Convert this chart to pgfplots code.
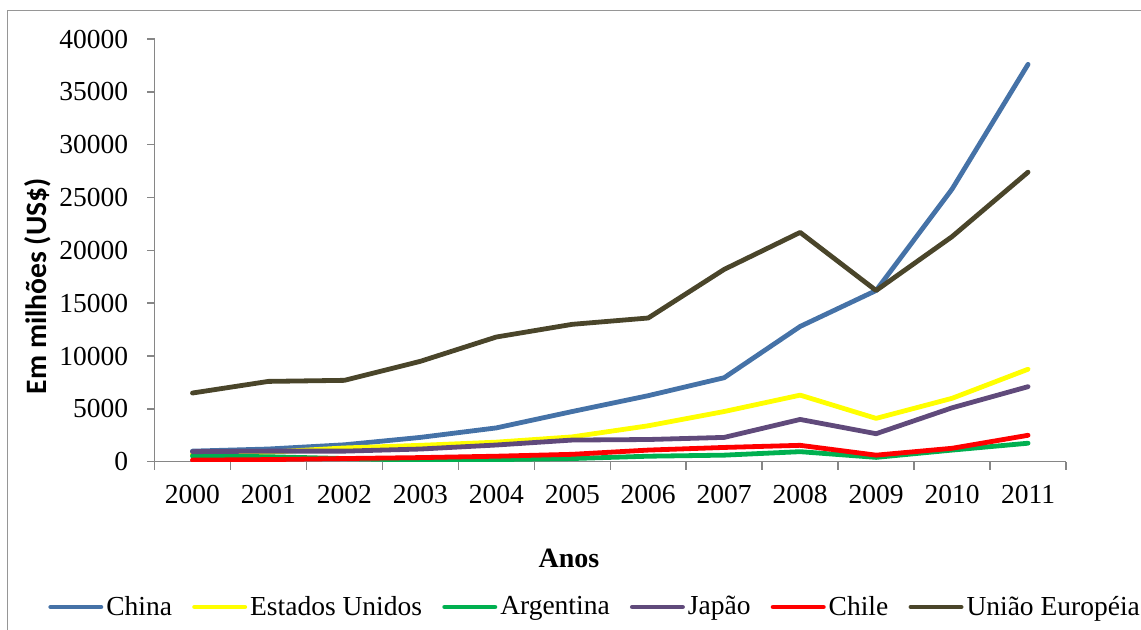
\documentclass[border=0pt]{standalone}
\usepackage{fontspec}
\setmainfont{Liberation Serif}
\newfontfamily\carlito{Carlito}
\usepackage{pgfplots}
\pgfplotsset{compat=1.18}
\definecolor{cchina}{RGB}{69,114,167}
\definecolor{cusa}{RGB}{255,255,0}
\definecolor{carg}{RGB}{0,176,80}
\definecolor{cjap}{RGB}{96,74,123}
\definecolor{cchile}{RGB}{255,0,0}
\definecolor{ceu}{RGB}{74,69,42}
\definecolor{axgray}{RGB}{134,134,134}
\definecolor{framegray}{RGB}{150,150,150}

\pgfplotstableread{
x china usa arg jap chile eu
0 1000 700 540 950 150 6500
1 1200 900 470 1000 200 7600
2 1600 1300 300 1000 300 7700
3 2300 1550 150 1200 390 9500
4 3200 1850 200 1580 520 11800
5 4750 2350 300 2050 700 13000
6 6250 3400 520 2100 1100 13600
7 7950 4750 620 2300 1350 18200
8 12800 6300 950 4000 1550 21700
9 16200 4100 410 2650 620 16200
10 25800 6000 1100 5100 1270 21300
11 37600 8750 1750 7100 2500 27400
}\datatable

\begin{document}
\begin{tikzpicture}
\useasboundingbox (0,0) rectangle (570.5pt,314.5pt);
\draw[framegray, line width=0.7pt] (3.75pt,-2pt) -- (3.75pt,309.25pt) -- (575pt,309.25pt);
\begin{axis}[
  at={(77.25pt,83.65pt)}, anchor=south west,
  scale only axis, width=455.75pt, height=211.35pt,
  xmin=-0.5, xmax=11.5, ymin=0, ymax=40000,
  axis x line*=bottom, axis y line*=left,
  axis line style={draw=axgray, line width=0.75pt, -},
  tick align=outside,
  major tick length=3.5pt, minor tick length=4pt,
  tick style={draw=axgray, line width=0.75pt},
  xtick={0,...,11},
  xticklabels={2000,2001,2002,2003,2004,2005,2006,2007,2008,2009,2010,2011},
  major x tick style={draw=none},
  minor xtick={-0.5,0.5,...,11.5},
  ytick={0,5000,...,40000},
  yticklabels={0,5000,10000,15000,20000,25000,30000,35000,40000},
  scaled y ticks=false,
  ticklabel style={font=\fontsize{13.75}{16}\selectfont},
  xticklabel style={anchor=north, inner sep=0pt, yshift=-8.15pt},
  yticklabel style={anchor=east, inner sep=0pt, xshift=-9.5pt},
  xlabel={Anos},
  xlabel style={at={(axis description cs:0.4548,-0.2508)}, anchor=base, font=\bfseries\fontsize{14}{16}\selectfont},
  ylabel={Em milhões (US\$)},
  ylabel style={at={(axis description cs:-0.1278,0.415)}, anchor=center, font=\carlito\bfseries\fontsize{14.8}{17}\selectfont},
  legend columns=6,
  legend style={at={(axis description cs:-0.1165,-0.3437)}, anchor=west, draw=none, fill=none,
    inner sep=0pt, outer sep=0pt, font=\fontsize{13.75}{16}\selectfont,
    nodes={inner sep=1.5pt},
    /tikz/every even column/.append style={column sep=8.6pt}},
  legend image code/.code={\draw[#1, line width=2.4pt, line cap=round] (1.2pt,0pt) -- (26.3pt,0pt);},
  every axis plot/.append style={line width=2.4pt, line cap=round, line join=round, mark=none},
]
\addplot[cchina] table[x=x, y=china] {\datatable};
\addlegendentry{China}
\addplot[cusa] table[x=x, y=usa] {\datatable};
\addlegendentry{Estados Unidos}
\addplot[carg] table[x=x, y=arg] {\datatable};
\addlegendentry{Argentina}
\addplot[cjap] table[x=x, y=jap] {\datatable};
\addlegendentry{Japão}
\addplot[cchile] table[x=x, y=chile] {\datatable};
\addlegendentry{Chile}
\addplot[ceu] table[x=x, y=eu] {\datatable};
\addlegendentry{União Européia}
\end{axis}
\end{tikzpicture}
\end{document}
